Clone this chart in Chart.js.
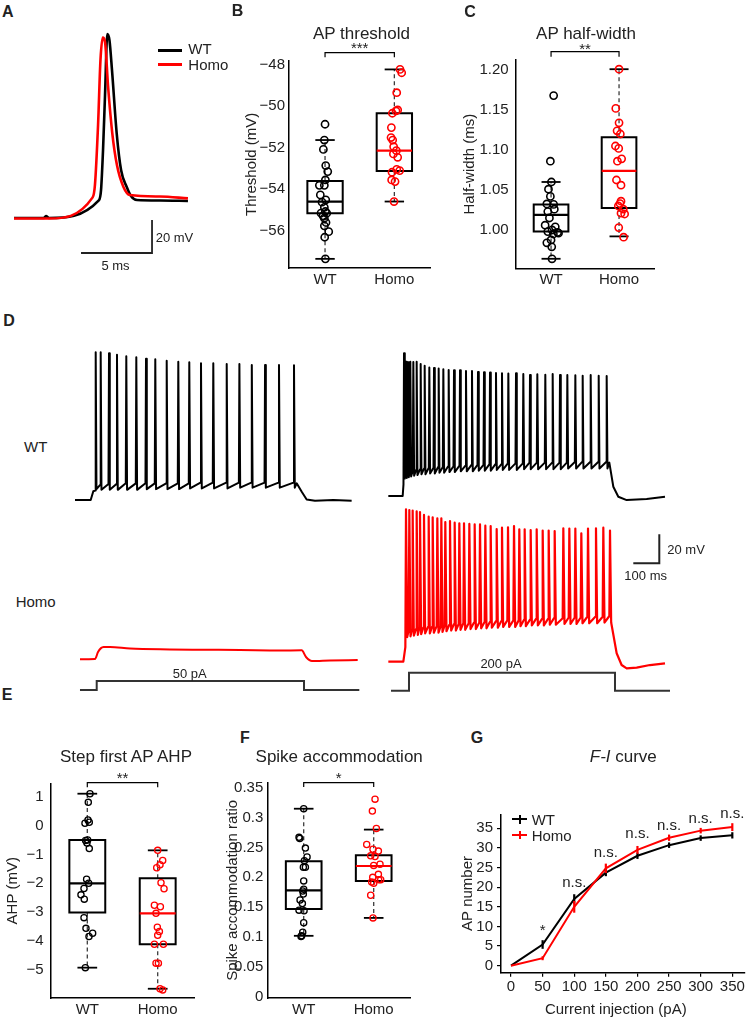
<!DOCTYPE html>
<html>
<head>
<meta charset="utf-8">
<script src="https://cdn.jsdelivr.net/npm/chart.js@4.4.1/dist/chart.umd.min.js"></script>
<style>
html,body{margin:0;padding:0;background:#fff}
body{position:relative;width:750px;height:1020px;overflow:hidden;font-family:"Liberation Sans",Arial,Helvetica,sans-serif;color:#222}
canvas{position:absolute;display:block}
.t{position:absolute;line-height:1;white-space:nowrap}
.k{position:absolute}
</style>
</head>
<body>
<script>
// ===================== DATA =====================
const GROUPS = ['WT', 'Homo'];

// --- A: single action potentials (time ms, voltage mV)
const apTimeWT   = [0, 2.11, 2.25, 2.46, 5.99, 6.13, 6.27, 6.41, 6.57, 6.72, 6.90, 7.23, 7.54, 7.94, 8.24, 8.66, 10.28, 12.25];
const apVoltWT   = [-70, -70, -68.8, -70, -59.1, -53, -28.8, 4.5, 41.5, 37.9, 19.8, -18.5, -40.9, -51.2, -56.7, -59.1, -59.4, -59.7];
const apTimeHomo = [0, 2.46, 5.54, 5.70, 5.92, 6.09, 6.25, 6.41, 6.62, 6.92, 7.25, 7.70, 8.17, 10.28, 12.25];
const apVoltHomo = [-70.3, -70.3, -57.5, -50, -13.6, 25.8, 39.3, 36.7, 10.3, -18.5, -37.9, -51, -56.1, -57, -58.1];
const apBarT = [4.72, 9.72, 9.72];      // 5 ms
const apBarV = [-91.2, -91.2, -71.2];   // 20 mV

// --- B: AP threshold (mV)
const thrWT     = [-50.88, -51.64, -52.09, -52.87, -53.16, -53.56, -53.82, -53.82, -54.28, -54.52, -54.63, -54.88, -55.08, -55.29, -55.40, -55.16, -55.16, -55.61, -55.77, -56.05, -56.32, -57.36];
const thrWTJit  = [0, -0.01, -0.024, 0.01, 0.039, 0.005, -0.082, -0.01, -0.068, 0.01, -0.043, -0.01, 0.005, -0.029, -0.01, 0.024, -0.058, 0.014, -0.01, 0.053, -0.005, 0.005];
const thrWTBox  = [-57.36, -55.16, -54.60, -53.61, -51.64];   // whiskerLo, Q1, median, Q3, whiskerHi
const thrHomo    = [-48.24, -48.40, -49.36, -50.24, -50.19, -50.35, -51.04, -51.52, -51.64, -51.96, -52.15, -52.31, -52.47, -53.05, -53.11, -53.19, -53.56, -53.64, -54.60];
const thrHomoJit = [0.082, 0.106, 0.034, 0.024, 0.048, -0.029, -0.043, -0.048, -0.024, -0.01, 0.029, -0.014, 0.048, 0.034, 0.077, -0.034, -0.039, 0.01, -0.005];
const thrHomoBox = [-54.60, -53.13, -52.15, -50.35, -48.24];
const thrTicks = [-56, -54, -52, -50, -48];
const thrTickLabels = ['\u221256', '\u221254', '\u221252', '\u221250', '\u221248'];

// --- C: AP half-width (ms)
const hwWT     = [1.168, 1.086, 1.060, 1.051, 1.042, 1.0325, 1.032, 1.023, 1.026, 1.015, 1.006, 1.004, 1.000, 0.998, 0.997, 0.996, 0.995, 0.9875, 0.984, 0.979, 0.964];
const hwWTJit  = [0.038, -0.01, 0.005, -0.038, -0.01, -0.062, 0.038, -0.048, 0.048, -0.024, -0.087, 0.062, 0.014, -0.048, 0.096, 0.11, 0.034, 0, -0.062, 0.01, 0.014];
const hwWTBox  = [0.964, 0.998, 1.019, 1.032, 1.060];
const hwHomo    = [1.201, 1.152, 1.134, 1.124, 1.120, 1.105, 1.102, 1.089, 1.086, 1.0625, 1.056, 1.036, 1.033, 1.026, 1.030, 1.021, 1.020, 1.003, 0.991];
const hwHomoJit = [0, -0.048, 0, -0.029, 0.019, -0.053, -0.005, 0.038, -0.024, -0.038, 0.029, 0.029, 0.014, 0.062, -0.01, 0.029, 0.082, -0.005, 0.067];
const hwHomoBox = [0.992, 1.0275, 1.074, 1.116, 1.201];
const hwTicks = [1.00, 1.05, 1.10, 1.15, 1.20];
const hwTickLabels = ['1.00', '1.05', '1.10', '1.15', '1.20'];

// --- D: step-current firing (time ms, voltage mV, current pA)
const wt50Lead   = [[0, -70], [60.4, -70], [70.4, -64]];
const wt50SpikeT = [79.6, 98.8, 130.8, 161.5, 197.3, 235.8, 273.1, 308.8, 352.7, 397.3, 439.6, 484.6, 531.9, 583.5, 632.3, 680, 731, 784.6, 842.3];
const wt50Peak   = [31.9, 31.9, 31.2, 30.2, 29.1, 28.4, 27.4, 27.0, 26.1, 25.4, 25.0, 24.3, 24.3, 23.8, 23.8, 23.1, 23.1, 23.1, 22.9];
const wt50Pre    = [-63.5, -59.5, -59, -59, -58.5, -58.5, -58.5, -58.5, -58.5, -58.5, -58.5, -58, -58, -58, -58, -58, -58, -58, -58];
const wt50Trough = [-62.5, -63, -63, -63, -63, -63, -62.5, -62.5, -62.5, -62.5, -62, -62, -62, -62, -61.5, -61.5, -61.5, -61.5, -61.5];
const wt50Tail   = [[852.7, -58.5], [872, -64.3], [891, -69.6], [923, -70.5], [993.6, -70], [1064, -70.5]];

const homo50Trace = [[19.2, -70], [76.9, -69.8], [88.5, -65], [100, -62.3], [110, -61.6], [134.6, -61.5], [211.5, -62.6], [365, -63.2], [480.8, -63.4], [634.6, -63.6], [788.5, -63.9], [871.9, -63.8], [888.5, -68.4], [911.5, -71.2], [980.8, -70.8], [1087.3, -70.5]];

const wt200Lead   = [[0.1, -70], [55.3, -70]];
const wt200SpikeT = [60.4, 68.1, 75.8, 84.7, 96.3, 109.1, 124.5, 139.9, 157.8, 175.8, 193.7, 211.7, 232.2, 252.7, 275.8, 298.8, 321.9, 345, 368.1, 391.2, 414.2, 437.3, 461.7, 491.2, 519.3, 545, 573.2, 603.9, 632.2, 660.4, 688.6, 719.4, 747.6, 778.4, 809.2, 839.9];
const wt200Peak   = [28.4, 22.6, 22.2, 22.6, 22.4, 22.6, 21.0, 19.9, 18.7, 18.3, 18.0, 17.4, 16.9, 16.7, 16.7, 16.2, 16.2, 15.5, 15.3, 15.1, 14.8, 14.6, 14.4, 14.6, 14.1, 13.4, 13.9, 13.6, 14.1, 13.4, 13.4, 13.2, 12.9, 13.4, 12.9, 12.7];
const wt200Pre    = [-62, -54, -53.5, -53, -52.5, -52, -51.5, -51, -50.5, -50.5, -50, -50, -49.5, -49.5, -49, -49, -48.5, -48.5, -48.5, -48, -48, -48, -47.5, -47.5, -47.5, -47, -47, -47, -47, -47, -47, -46.5, -46.5, -46.5, -46.5, -46.5];
const wt200Trough = [-58, -57.5, -57, -56.5, -56, -55.5, -55, -55, -54.5, -54.5, -54, -54, -53.5, -53.5, -53, -53, -53, -52.5, -52.5, -52.5, -52, -52, -52, -52, -51.5, -51.5, -51.5, -51.5, -51.5, -51.5, -51, -51, -51, -51, -51, -51];
const wt200Tail   = [[850.1, -47], [865.5, -63.6], [884.7, -70.5], [916.8, -72.8], [993.7, -72], [1064.2, -70.5]];

const homo200Lead   = [[0.1, -70], [57.8, -70]];
const homo200SpikeT = [68.1, 80.9, 93.7, 109.1, 121.9, 137.3, 155.3, 170.7, 188.6, 204, 219.3, 237.3, 255.3, 273.2, 291.2, 311.7, 332.2, 352.7, 373.2, 393.7, 416.8, 437.3, 460.4, 483.5, 503.9, 524.5, 547.6, 570.7, 593.8, 616.8, 639.9, 673.2, 696.3, 719.4, 742.4, 768.1, 798.8, 827, 852.7];
const homo200Peak   = [35.1, 34.6, 34.2, 33.7, 33.2, 31.2, 30.0, 29.6, 28.9, 28.9, 26.3, 27.0, 25.9, 25.4, 25.4, 25.0, 24.7, 24.7, 23.8, 23.6, 21.5, 22.4, 22.7, 23.6, 21.3, 21.3, 20.8, 21.3, 20.4, 20.4, 20.1, 22.0, 21.8, 21.8, 18.5, 21.8, 22.0, 22.4, 20.4];
const homo200Pre    = [-60, -48.5, -48, -47.5, -47, -46.5, -46, -46, -45.5, -45.5, -45, -44.5, -44, -44, -43.5, -43.5, -43, -43, -42.5, -42.5, -42, -42, -41.5, -41.5, -41.5, -41, -41, -40.5, -40.5, -40.5, -40, -40, -39.5, -39.5, -39.5, -39, -39, -39, -38.5];
const homo200Trough = [-53, -52.5, -52, -51.5, -51, -50.5, -50.5, -50, -50, -49.5, -49, -48.5, -48.5, -48, -48, -47.5, -47.5, -47, -47, -46.5, -46.5, -46, -46, -46, -45.5, -45.5, -45, -45, -45, -44.5, -44.5, -44, -44, -44, -43.5, -43.5, -43.5, -43, -43];
const homo200Tail   = [[859, -43], [878.3, -64.2], [897.4, -72.3], [916.8, -74.6], [955.2, -74.1], [1006.4, -72.3], [1064.2, -71.1]];

const iStep50T  = [19.2, 83.5, 83.5, 880.8, 880.8, 1093.5];
const iStep50   = [0, 0, 50, 50, 0, 0];
const iStep200T = [10.4, 79.6, 79.6, 871.9, 871.9, 1083.5];
const iStep200  = [0, 0, 200, 200, 0, 0];
const dBarT = [942.3, 1042.3, 1042.3];   // 100 ms
const dBarV = [-116.4, -116.4, -96.4];   // 20 mV

// --- E: step first AP AHP (mV)
const ahpWT     = [1.10, 0.80, 0.19, 0.11, 0.08, -0.50, -0.52, -0.61, -0.80, -1.86, -2.00, -2.18, -2.40, -2.55, -3.19, -3.56, -3.73, -3.84, -4.92];
const ahpWTJit  = [0.038, 0.014, 0.01, 0.028, -0.033, 0.005, -0.024, -0.005, 0.028, -0.01, 0.019, -0.047, -0.09, -0.043, -0.047, -0.019, 0.076, 0.024, -0.028];
const ahpWTBox  = [-4.92, -3.01, -2.00, -0.50, 1.10];
const ahpHomo    = [-0.86, -1.21, -1.36, -1.46, -1.98, -2.19, -2.76, -2.81, -3.04, -3.52, -3.67, -3.80, -4.11, -4.11, -4.77, -4.77, -5.65, -5.69];
const ahpHomoJit = [0, 0.071, 0.033, -0.014, 0.047, 0.09, -0.047, 0.038, -0.024, -0.005, 0.024, 0, -0.047, 0.081, -0.024, 0.01, 0.033, 0.071];
const ahpHomoBox = [-5.65, -4.11, -3.04, -1.83, -0.86];
const ahpTicks = [-5, -4, -3, -2, -1, 0, 1];
const ahpTickLabels = ['\u22125', '\u22124', '\u22123', '\u22122', '\u22121', '0', '1'];

// --- F: spike accommodation ratio
const accWT     = [0.315, 0.267, 0.265, 0.249, 0.234, 0.228, 0.217, 0.217, 0.194, 0.180, 0.177, 0.172, 0.162, 0.156, 0.145, 0.144, 0.124, 0.108, 0.102, 0.101];
const accWTJit  = [0, -0.067, -0.057, 0.024, 0.048, 0.01, -0.005, 0.024, 0, 0, -0.014, -0.005, -0.052, -0.019, -0.067, 0.005, 0, -0.014, -0.029, -0.038];
const accWTBox  = [0.102, 0.147, 0.178, 0.227, 0.315];
const accHomo    = [0.331, 0.311, 0.282, 0.255, 0.247, 0.244, 0.236, 0.235, 0.220, 0.222, 0.205, 0.200, 0.196, 0.196, 0.192, 0.190, 0.170, 0.132];
const accHomoJit = [0.019, -0.019, 0.038, -0.1, -0.01, 0.067, -0.043, 0.019, 0, 0.09, 0.067, -0.014, 0.071, 0.1, -0.029, 0, -0.043, -0.01];
const accHomoBox = [0.132, 0.194, 0.219, 0.237, 0.280];
const accTicks = [0, 0.05, 0.1, 0.15, 0.2, 0.25, 0.3, 0.35];
const accTickLabels = ['0', '0.05', '0.1', '0.15', '0.2', '0.25', '0.3', '0.35'];

// --- G: F-I curve
const fiCurrent = [0, 50, 100, 150, 200, 250, 300, 350];
const fiWT      = [0, 5.4, 17.0, 23.7, 28.0, 30.7, 32.5, 33.2];
const fiWTErr   = [0, 1.1, 1.2, 0.9, 0.8, 0.7, 0.7, 0.8];
const fiHomo    = [0, 1.9, 15.0, 24.8, 29.5, 32.6, 34.4, 35.3];
const fiHomoErr = [0, 0.5, 1.5, 1.2, 1.0, 0.8, 0.7, 1.0];
const fiSigLabels = ['*', 'n.s.', 'n.s.', 'n.s.', 'n.s.', 'n.s.', 'n.s.'];
const fiSigX      = [50, 100, 150, 200, 250, 300, 350];
const fiSigY      = [7.8, 20.0, 27.8, 32.4, 34.6, 36.4, 37.5];
const fiTicksX = [0, 50, 100, 150, 200, 250, 300, 350];
const fiTicksY = [0, 5, 10, 15, 20, 25, 30, 35];

// ===================== STYLE / HELPERS =====================
const RED = '#ff0000', BLK = '#000000', INK = '#222222';
const PX_MS = 0.26, PX_MV = 1.45, PX_PA_50 = 0.18, PX_PA_200 = 0.09;
const BOX_HALF = 0.255, CAP_HALF = 0.14;

Chart.defaults.font.family = '"Liberation Sans", Arial, Helvetica, sans-serif';
Chart.defaults.font.size = 15;
Chart.defaults.color = INK;
Chart.defaults.animation = false;
Chart.defaults.events = [];
Chart.defaults.plugins.legend.display = false;
Chart.defaults.plugins.tooltip.enabled = false;

function makeCanvas(l, t, w, h) {
  const c = document.createElement('canvas');
  c.width = w; c.height = h;
  c.style.left = l + 'px'; c.style.top = t + 'px';
  c.style.width = w + 'px'; c.style.height = h + 'px';
  document.body.appendChild(c);
  return c;
}
function xy(xs, ys) { return xs.map((x, i) => ({x: x, y: ys[i]})); }
function pairs(arr) { return arr.map(p => ({x: p[0], y: p[1]})); }
function lineDs(points, color, width, extra) {
  return Object.assign({data: points, showLine: true, borderColor: color, backgroundColor: color,
    borderWidth: width, pointRadius: 0, pointHitRadius: 0, fill: false,
    borderJoinStyle: 'round', borderCapStyle: 'butt', clip: false}, extra || {});
}
function seg(x1, y1, x2, y2, color, width, extra) {
  return lineDs([{x: x1, y: y1}, {x: x2, y: y2}], color, width, extra);
}
// rise/fall: drawing duration (ms) of each spike's up- and down-stroke
function spikeTrain(lead, T, pre, peak, trough, tail, rise, fall) {
  const pts = pairs(lead);
  T.forEach((t, i) => {
    pts.push({x: t - rise, y: pre[i]}, {x: t, y: peak[i]}, {x: t + fall, y: trough[i]});
  });
  return pts.concat(pairs(tail));
}
function vRange(refVal, refPx, pxPerUnit, top, h) {
  const max = refVal + (refPx - top) / pxPerUnit;
  return {min: max - h / pxPerUnit, max: max};
}
function hRange(refVal, refPx, pxPerUnit, left, w) {
  const min = refVal - (refPx - left) / pxPerUnit;
  return {min: min, max: min + w / pxPerUnit};
}
function txt(html, x, capY, size, align, bold) {
  const d = document.createElement('div');
  d.className = 't'; d.innerHTML = html;
  d.style.fontSize = size + 'px';
  d.style.top = (capY - 0.4885 * size).toFixed(1) + 'px';
  if (align === 'center') { d.style.left = (x - 150) + 'px'; d.style.width = '300px'; d.style.textAlign = 'center'; }
  else d.style.left = x + 'px';
  if (bold) d.style.fontWeight = 'bold';
  document.body.appendChild(d);
}
function bar(l, t, w, h, color) {
  const d = document.createElement('div');
  d.className = 'k';
  Object.assign(d.style, {left: l + 'px', top: t + 'px', width: w + 'px', height: h + 'px', background: color});
  document.body.appendChild(d);
}

const bracketPlugin = {
  id: 'bracket',
  afterDraw(chart, args, o) {
    if (!o || !o.label) return;
    const {ctx, chartArea, scales: {x}} = chart;
    const x1 = x.getPixelForValue(1), x2 = x.getPixelForValue(2);
    const y = chartArea.top - o.rise;
    ctx.save();
    ctx.strokeStyle = BLK; ctx.lineWidth = 1.2;
    ctx.beginPath(); ctx.moveTo(x1, y + o.drop); ctx.lineTo(x1, y); ctx.lineTo(x2, y); ctx.lineTo(x2, y + o.drop); ctx.stroke();
    ctx.fillStyle = INK; ctx.font = '15px "Liberation Sans", Arial, sans-serif';
    ctx.textAlign = 'center'; ctx.textBaseline = 'alphabetic';
    ctx.fillText(o.label, (x1 + x2) / 2, y + o.textDy);
    ctx.restore();
  }
};

function boxChart(o) {
  const [cl, ct, cw, ch] = o.cv;
  const [al, at, ar, ab] = o.area;
  const c = makeCanvas(cl, ct, cw, ch);
  const ds = [];
  const groups = [
    {vals: o.wt, jit: o.wtJit, box: o.wtBox, col: BLK},
    {vals: o.homo, jit: o.homoJit, box: o.homoBox, col: RED}
  ];
  groups.forEach((g, gi) => {
    const cx = gi + 1;
    const [lo, q1, med, q3, hi] = g.box;
    ds.push({data: g.vals.map((v, i) => ({x: cx + g.jit[i], y: v})), showLine: false, pointStyle: 'circle',
      pointRadius: o.r, pointBorderWidth: o.pw, pointBorderColor: g.col, pointBackgroundColor: 'rgba(255,255,255,0)', order: 0});
    ds.push(seg(cx, q3, cx, hi, '#3c3c3c', 1.3, {borderDash: [4, 3], order: 4}));
    ds.push(seg(cx, q1, cx, lo, '#3c3c3c', 1.3, {borderDash: [4, 3], order: 4}));
    ds.push(seg(cx - CAP_HALF, hi, cx + CAP_HALF, hi, BLK, 1.8, {order: 3}));
    ds.push(seg(cx - CAP_HALF, lo, cx + CAP_HALF, lo, BLK, 1.8, {order: 3}));
    ds.push(lineDs([{x: cx - BOX_HALF, y: q1}, {x: cx + BOX_HALF, y: q1}, {x: cx + BOX_HALF, y: q3},
      {x: cx - BOX_HALF, y: q3}, {x: cx - BOX_HALF, y: q1}], BLK, 2, {order: 2, borderJoinStyle: 'miter', borderCapStyle: 'square'}));
    ds.push(seg(cx - BOX_HALF, med, cx + BOX_HALF, med, g.col, 2.2, {order: 1}));
  });
  return new Chart(c, {
    type: 'scatter',
    data: {datasets: ds},
    plugins: [bracketPlugin],
    options: {
      responsive: false,
      layout: {padding: {left: 0, top: at - ct, right: cl + cw - ar, bottom: 0}},
      plugins: {bracket: o.bracket},
      scales: {
        x: {type: 'linear', min: 0.48, max: 2.52,
          afterBuildTicks: s => { s.ticks = [{value: 1}, {value: 2}]; },
          afterFit: s => { s.height = ct + ch - ab; s.paddingLeft = 0; s.paddingRight = 0; },
          ticks: {autoSkip: false, maxRotation: 0, padding: 2.5, callback: (v, i) => GROUPS[i]},
          grid: {display: false, drawTicks: false},
          border: {display: true, color: BLK, width: 1.5}},
        y: {type: 'linear', min: o.yMin, max: o.yMax,
          afterBuildTicks: s => { s.ticks = o.ticks.map(v => ({value: v})); },
          afterFit: s => { s.width = al - cl; s.paddingTop = 0; s.paddingBottom = 0; },
          ticks: {autoSkip: false, padding: o.yPad, callback: (v, i) => o.tickLabels[i]},
          grid: {display: false, drawTicks: false},
          border: {display: true, color: BLK, width: 1.5},
          title: {display: true, text: o.yTitle, color: INK, font: {size: 15}, padding: {top: o.titlePad, bottom: 0}}}
      }
    }
  });
}

function traceChart(cv, xr, yAxes, datasets) {
  const c = makeCanvas(cv[0], cv[1], cv[2], cv[3]);
  const scales = {x: {type: 'linear', display: false, min: xr.min, max: xr.max}};
  Object.keys(yAxes).forEach(k => {
    scales[k] = {type: 'linear', axis: 'y', position: 'left', display: false, min: yAxes[k].min, max: yAxes[k].max};
  });
  return new Chart(c, {type: 'scatter', data: {datasets: datasets},
    options: {responsive: false, layout: {padding: 0}, scales: scales}});
}

// ===================== PANEL A =====================
traceChart([0, 20, 240, 260], hRange(0, 14, 14.2, 0, 240), {y: vRange(-70, 218, 1.65, 20, 260)}, [
  lineDs(xy(apTimeHomo, apVoltHomo), RED, 2.6, {yAxisID: 'y', order: 0, cubicInterpolationMode: 'monotone'}),
  lineDs(xy(apTimeWT, apVoltWT), BLK, 2.6, {yAxisID: 'y', order: 1, cubicInterpolationMode: 'monotone'}),
  lineDs(xy(apBarT, apBarV), INK, 1.8, {yAxisID: 'y', order: 2, borderJoinStyle: 'miter'})
]);

// ===================== PANEL B / C / E / F =====================
boxChart({cv: [230, 30, 210, 260], area: [289, 60.7, 430.4, 268], yMin: -57.80, yMax: -47.82,
  ticks: thrTicks, tickLabels: thrTickLabels, yTitle: 'Threshold (mV)', titlePad: 12.7, yPad: 4,
  wt: thrWT, wtJit: thrWTJit, wtBox: thrWTBox, homo: thrHomo, homoJit: thrHomoJit, homoBox: thrHomoBox,
  r: 3.6, pw: 1.6, bracket: {label: '***', rise: 8, drop: 4.6, textDy: 0.7}});

boxChart({cv: [460, 30, 200, 260], area: [515.7, 60, 657.1, 268.3], yMin: 0.9521, yMax: 1.2125,
  ticks: hwTicks, tickLabels: hwTickLabels, yTitle: 'Half-width (ms)', titlePad: 1, yPad: 7,
  wt: hwWT, wtJit: hwWTJit, wtBox: hwWTBox, homo: hwHomo, homoJit: hwHomoJit, homoBox: hwHomoBox,
  r: 3.6, pw: 1.6, bracket: {label: '**', rise: 8.3, drop: 5, textDy: 2.3}});

boxChart({cv: [0, 760, 205, 260], area: [50.7, 783.3, 194.3, 998], yMin: -5.97, yMax: 1.46,
  ticks: ahpTicks, tickLabels: ahpTickLabels, yTitle: 'AHP (mV)', titlePad: 4.3, yPad: 7,
  wt: ahpWT, wtJit: ahpWTJit, wtBox: ahpWTBox, homo: ahpHomo, homoJit: ahpHomoJit, homoBox: ahpHomoBox,
  r: 3.1, pw: 1.3, bracket: {label: '**', rise: 0.6, drop: 4.6, textDy: 0}});

boxChart({cv: [224, 760, 200, 260], area: [267.3, 782.7, 410.1, 998], yMin: -0.0022, yMax: 0.3586,
  ticks: accTicks, tickLabels: accTickLabels, yTitle: 'Spike accommodation ratio', titlePad: 0.3, yPad: 4,
  wt: accWT, wtJit: accWTJit, wtBox: accWTBox, homo: accHomo, homoJit: accHomoJit, homoBox: accHomoBox,
  r: 3.1, pw: 1.3, bracket: {label: '*', rise: 0, drop: 4.4, textDy: 0.5}});

// ===================== PANEL D =====================
traceChart([60, 330, 310, 370], hRange(0, 75, PX_MS, 60, 310), {
  yWT: vRange(-70, 500, PX_MV, 330, 370),
  yHomo: vRange(-70, 659.3, PX_MV, 330, 370),
  yI: vRange(0, 690, PX_PA_50, 330, 370)
}, [
  lineDs(spikeTrain(wt50Lead, wt50SpikeT, wt50Pre, wt50Peak, wt50Trough, wt50Tail, 2, 3), BLK, 2, {yAxisID: 'yWT'}),
  lineDs(pairs(homo50Trace), RED, 2, {yAxisID: 'yHomo', cubicInterpolationMode: 'monotone'}),
  lineDs(xy(iStep50T, iStep50), '#333333', 2, {yAxisID: 'yI', borderJoinStyle: 'miter'})
]);

traceChart([380, 330, 300, 370], hRange(0, 388.3, PX_MS, 380, 300), {
  yWT: vRange(-70, 496, PX_MV, 330, 370),
  yHomo: vRange(-70, 661.7, PX_MV, 330, 370),
  yI: vRange(0, 690.7, PX_PA_200, 330, 370)
}, [
  lineDs(spikeTrain(wt200Lead, wt200SpikeT, wt200Pre, wt200Peak, wt200Trough, wt200Tail, 2, 3), BLK, 2, {yAxisID: 'yWT'}),
  lineDs(spikeTrain(homo200Lead, homo200SpikeT, homo200Pre, homo200Peak, homo200Trough, homo200Tail, 2.5, 4.5), RED, 2.2, {yAxisID: 'yHomo'}),
  lineDs(xy(iStep200T, iStep200), '#333333', 2, {yAxisID: 'yI', borderJoinStyle: 'miter'}),
  lineDs(xy(dBarT, dBarV), INK, 2, {yAxisID: 'yWT', borderJoinStyle: 'miter'})
]);

// ===================== PANEL G =====================
(function () {
  const cl = 440, ct = 790, cw = 310, ch = 230;
  const area = [501, 814.3, 745, 972.7];
  const c = makeCanvas(cl, ct, cw, ch);
  const ds = [];
  fiCurrent.forEach((x, i) => {
    if (fiHomoErr[i] > 0) ds.push(seg(x, fiHomo[i] - fiHomoErr[i], x, fiHomo[i] + fiHomoErr[i], RED, 2.2, {order: 0}));
    if (fiWTErr[i] > 0) ds.push(seg(x, fiWT[i] - fiWTErr[i], x, fiWT[i] + fiWTErr[i], BLK, 2.2, {order: 1}));
  });
  ds.push(lineDs(xy(fiCurrent, fiHomo), RED, 2, {order: 2, borderJoinStyle: 'miter'}));
  ds.push(lineDs(xy(fiCurrent, fiWT), BLK, 2, {order: 3, borderJoinStyle: 'miter'}));
  const sigPlugin = {
    id: 'sig',
    afterDatasetsDraw(chart) {
      const {ctx, scales: {x, y}} = chart;
      ctx.save();
      ctx.fillStyle = INK; ctx.font = '15px "Liberation Sans", Arial, sans-serif';
      ctx.textAlign = 'center'; ctx.textBaseline = 'alphabetic';
      fiSigLabels.forEach((s, i) => ctx.fillText(s, x.getPixelForValue(fiSigX[i]), y.getPixelForValue(fiSigY[i])));
      ctx.restore();
    }
  };
  const xr = hRange(0, 511, 0.6323, area[0], area[2] - area[0]);
  const yr = vRange(0, 965.7, 3.926, area[1], area[3] - area[1]);
  new Chart(c, {
    type: 'scatter',
    data: {datasets: ds},
    plugins: [sigPlugin],
    options: {
      responsive: false,
      layout: {padding: {left: 0, top: area[1] - ct, right: cl + cw - area[2], bottom: 0}},
      scales: {
        x: {type: 'linear', min: xr.min, max: xr.max,
          afterBuildTicks: s => { s.ticks = fiTicksX.map(v => ({value: v})); },
          afterFit: s => { s.height = ct + ch - area[3]; s.paddingLeft = 0; s.paddingRight = 0; },
          ticks: {autoSkip: false, maxRotation: 0, padding: 1.5},
          grid: {display: true, drawOnChartArea: false, drawTicks: true, tickLength: 4, color: BLK, lineWidth: 1.2},
          border: {display: true, color: BLK, width: 1.5}},
        y: {type: 'linear', min: yr.min, max: yr.max,
          afterBuildTicks: s => { s.ticks = fiTicksY.map(v => ({value: v})); },
          afterFit: s => { s.width = area[0] - cl; s.paddingTop = 0; s.paddingBottom = 0; },
          ticks: {autoSkip: false, padding: 4},
          grid: {display: true, drawOnChartArea: false, drawTicks: true, tickLength: 4, color: BLK, lineWidth: 1.2},
          border: {display: true, color: BLK, width: 1.5},
          title: {display: true, text: 'AP number', color: INK, font: {size: 15}, padding: {top: 19.3, bottom: 0}}}
      }
    }
  });
})();

// ===================== TEXT & LEGENDS =====================
txt('A', 2, 12, 16, 'left', true);
txt('B', 231.7, 10.8, 16, 'left', true);
txt('C', 464.3, 11.7, 16, 'left', true);
txt('D', 3.3, 320.8, 16, 'left', true);
txt('E', 1.7, 695, 16, 'left', true);
txt('F', 240, 737.5, 16, 'left', true);
txt('G', 470.7, 737.5, 16, 'left', true);

txt('AP threshold', 361.5, 33.3, 17, 'center');
txt('AP half-width', 586, 33.3, 17, 'center');
txt('Step first AP AHP', 126, 756.7, 17, 'center');
txt('Spike accommodation', 339.2, 756.7, 17, 'center');
txt('<i>F-I</i> curve', 623.3, 756.7, 17, 'center');

// A legend + scale
bar(157.7, 48.5, 24, 3, BLK);
bar(157.7, 62.8, 24, 3, RED);
txt('WT', 188.3, 48.3, 15, 'left');
txt('Homo', 188.3, 64.2, 15, 'left');
txt('20 mV', 155.7, 237.5, 13, 'left');
txt('5 ms', 115.5, 265.8, 13, 'center');

// D labels
txt('WT', 24, 445.8, 15, 'left');
txt('Homo', 15.7, 601.2, 15, 'left');
txt('50 pA', 189.7, 673.2, 13, 'center');
txt('200 pA', 501, 663.3, 13, 'center');
txt('20 mV', 667.3, 549.5, 13, 'left');
txt('100 ms', 645.7, 575.8, 13, 'center');

// G legend + x title
bar(511.7, 818.3, 15.6, 2, BLK); bar(518.9, 815, 2, 8.5, BLK);
bar(511.7, 834, 15.6, 2, RED);   bar(518.9, 830.7, 2, 8.5, RED);
txt('WT', 531.7, 819.3, 15, 'left');
txt('Homo', 531.7, 835, 15, 'left');
txt('Current injection (pA)', 615.8, 1008.3, 15, 'center');
</script>
</body>
</html>
